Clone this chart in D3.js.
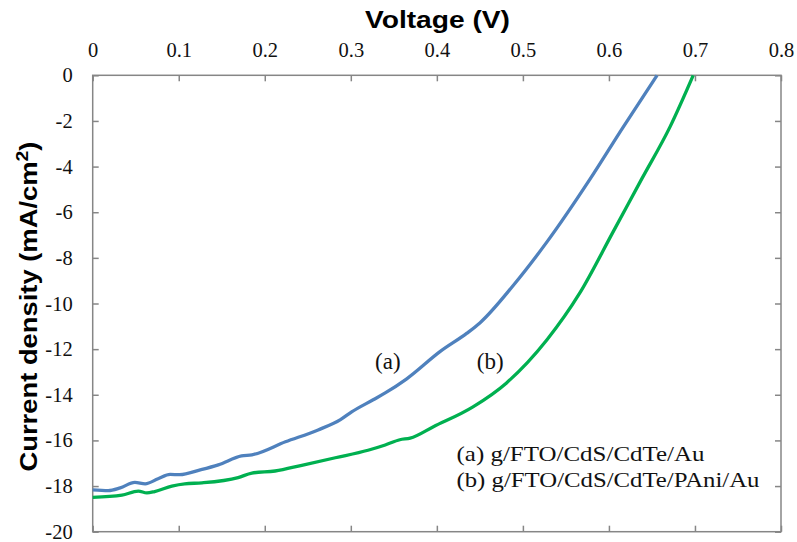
<!DOCTYPE html>
<html><head><meta charset="utf-8">
<script src="https://cdn.jsdelivr.net/npm/d3@7"></script>
<style>
html,body{margin:0;padding:0;background:#fff;}
svg{display:block;}
</style></head>
<body>
<svg id="chart" width="797" height="542"></svg>
<script>
// ---- data ----
const xTicks = [0, 0.1, 0.2, 0.3, 0.4, 0.5, 0.6, 0.7, 0.8];
const yTicks = [0, -2, -4, -6, -8, -10, -12, -14, -16, -18, -20];

const voltageA = [0, 0.018, 0.032, 0.049, 0.061, 0.076, 0.090, 0.101, 0.125, 0.146, 0.173, 0.185, 0.224, 0.262, 0.288, 0.301, 0.326, 0.340, 0.365, 0.404, 0.435, 0.450, 0.489, 0.528, 0.578, 0.616, 0.656];
const currentA = [-18.17, -18.2, -18.08, -17.84, -17.9, -17.68, -17.49, -17.5, -17.29, -17.07, -16.68, -16.63, -16.06, -15.54, -15.09, -14.75, -14.22, -13.92, -13.3, -12.1, -11.3, -10.85, -9.2, -7.3, -4.55, -2.3, 0];

const voltageB = [0, 0.034, 0.053, 0.063, 0.072, 0.092, 0.107, 0.127, 0.169, 0.185, 0.212, 0.243, 0.282, 0.320, 0.340, 0.357, 0.369, 0.396, 0.442, 0.481, 0.528, 0.566, 0.605, 0.638, 0.671, 0.698];
const currentB = [-18.5, -18.4, -18.22, -18.3, -18.24, -18.0, -17.9, -17.86, -17.63, -17.43, -17.34, -17.09, -16.76, -16.43, -16.2, -15.97, -15.9, -15.4, -14.53, -13.48, -11.59, -9.55, -6.85, -4.55, -2.26, 0];

const seriesNames = ["(a)", "(b)"];
const legendLines = ["(a) g/FTO/CdS/CdTe/Au", "(b) g/FTO/CdS/CdTe/PAni/Au"];

// ---- layout ----
const svg = d3.select("#chart");
const L = 92.7, R = 781, T = 75.3, B = 531.7;
const x = d3.scaleLinear().domain([0, 0.8]).range([L, R]);
const y = d3.scaleLinear().domain([-20, 0]).range([B, T]);
const frame = "#868686";

svg.append("rect").attr("x", L).attr("y", T).attr("width", R - L).attr("height", B - T)
  .attr("fill", "none").attr("stroke", frame).attr("stroke-width", 1.5);

function styleAxis(g) {
  g.select(".domain").remove();
  g.selectAll(".tick line").attr("stroke", frame).attr("stroke-width", 1.5);
  g.selectAll(".tick text").attr("fill", "#111")
    .style("font-family", "'Liberation Serif','Times New Roman',serif").style("font-size", "20.5px");
}

svg.append("g").attr("transform", `translate(0,${T})`)
  .call(d3.axisTop(x).tickValues(xTicks).tickFormat(d => d === 0 ? "0" : d3.format(".1f")(d)).tickSizeInner(-6).tickSizeOuter(0).tickPadding(18))
  .call(styleAxis);
svg.append("g").attr("transform", `translate(0,${B})`)
  .call(d3.axisBottom(x).tickValues(xTicks).tickFormat("").tickSizeInner(-6).tickSizeOuter(0))
  .call(styleAxis);
svg.append("g").attr("transform", `translate(${L},0)`)
  .call(d3.axisLeft(y).tickValues(yTicks).tickFormat(d3.format("d")).tickSizeInner(-6).tickSizeOuter(0).tickPadding(20))
  .call(styleAxis);
svg.append("g").attr("transform", `translate(${R},0)`)
  .call(d3.axisRight(y).tickValues(yTicks).tickFormat("").tickSizeInner(-6).tickSizeOuter(0))
  .call(styleAxis);

svg.selectAll(".tick text").text(function(){ return d3.select(this).text().replace("\u2212", "-"); });

// curves
const line = d3.line().x(d => x(d[0])).y(d => y(d[1])).curve(d3.curveMonotoneX);
const dataA = voltageA.map((v, i) => [v, currentA[i]]);
const dataB = voltageB.map((v, i) => [v, currentB[i]]);
svg.append("path").datum(dataB).attr("d", line).attr("fill", "none")
  .attr("stroke", "#00B050").attr("stroke-width", 3.3).attr("stroke-linejoin", "round");
svg.append("path").datum(dataA).attr("d", line).attr("fill", "none")
  .attr("stroke", "#4F81BD").attr("stroke-width", 3.3).attr("stroke-linejoin", "round");

// titles
svg.append("text").attr("x", 437.5).attr("y", 27.5).attr("text-anchor", "middle")
  .attr("textLength", 145).attr("lengthAdjust", "spacingAndGlyphs")
  .style("font-family", "'Liberation Sans',Arial,sans-serif").style("font-weight", "bold").style("font-size", "24px")
  .text("Voltage (V)");

const yt = svg.append("text").attr("transform", "translate(37,306.5) rotate(-90)").attr("text-anchor", "middle")
  .attr("textLength", 330).attr("lengthAdjust", "spacingAndGlyphs")
  .style("font-family", "'Liberation Sans',Arial,sans-serif").style("font-weight", "bold").style("font-size", "24px");
yt.append("tspan").text("Current density (mA/cm");
yt.append("tspan").attr("dy", -9).style("font-size", "17px").text("2");
yt.append("tspan").attr("dy", 9).text(")");

// curve labels
const serif = "'Liberation Serif','Times New Roman',serif";
svg.append("text").attr("x", x(0.343)).attr("y", 368.5).attr("text-anchor", "middle")
  .style("font-family", serif).style("font-size", "23px").attr("fill", "#111").text(seriesNames[0]);
svg.append("text").attr("x", x(0.462)).attr("y", 368.5).attr("text-anchor", "middle")
  .style("font-family", serif).style("font-size", "23px").attr("fill", "#111").text(seriesNames[1]);

// legend
svg.append("text").attr("x", 456.5).attr("y", 460.5).attr("textLength", 248).attr("lengthAdjust", "spacingAndGlyphs")
  .style("font-family", serif).style("font-size", "21px").attr("fill", "#111").text(legendLines[0]);
svg.append("text").attr("x", 456.5).attr("y", 487).attr("textLength", 303).attr("lengthAdjust", "spacingAndGlyphs")
  .style("font-family", serif).style("font-size", "21px").attr("fill", "#111").text(legendLines[1]);
</script>
</body></html>
